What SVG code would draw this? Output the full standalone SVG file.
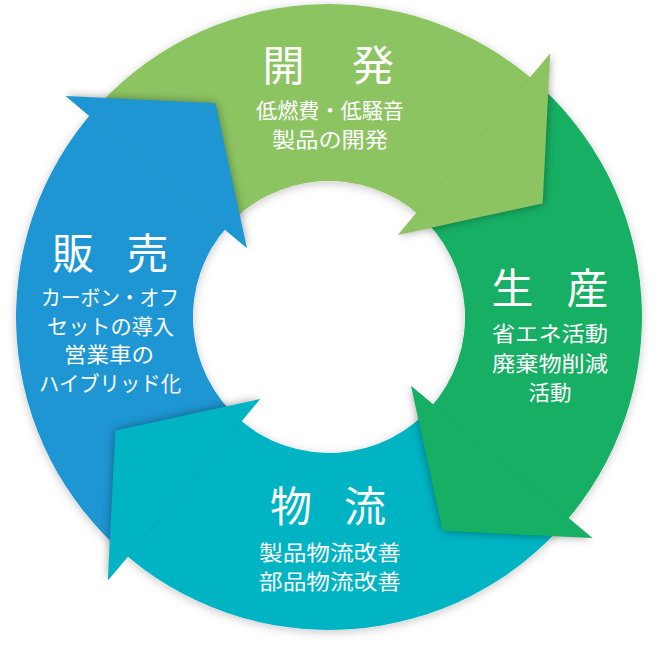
<svg xmlns="http://www.w3.org/2000/svg" width="662" height="662" viewBox="0 0 662 662">
<style>
  text { font-family: "Noto Sans CJK JP", "Noto Sans", sans-serif; fill: #ffffff; text-anchor: middle; }
  .title { font-size: 42px; }
  .sub { font-size: 21px; }
  .dev { fill: #8cc462; }
  .prod { fill: #17af64; }
  .logi { fill: #00b4c4; }
  .sales { fill: #1e96d3; }
  .hshadow { fill: #000; opacity: 0.38; filter: url(#blur); }
</style>
<defs>
  <filter id="soft" x="-20%" y="-20%" width="140%" height="140%">
    <feDropShadow dx="0" dy="2" stdDeviation="5" flood-color="#000" flood-opacity="0.22"/>
  </filter>
  <filter id="blur" x="-30%" y="-30%" width="160%" height="160%">
    <feGaussianBlur stdDeviation="5"/>
  </filter>
  <clipPath id="w1"><polygon points="329,317 714.7,-142.6 926.7,264.7 788.6,702.7"/></clipPath>
  <clipPath id="w2"><polygon points="329,317 788.6,702.7 381.3,914.7 -56.7,776.6"/></clipPath>
  <clipPath id="w3"><polygon points="329,317 -56.7,776.6 -268.7,369.3 -130.6,-68.7"/></clipPath>
  <clipPath id="w4"><polygon points="329,317 -130.6,-68.7 276.7,-280.7 714.7,-142.6"/></clipPath>
</defs>
<rect width="662" height="662" fill="#ffffff"/>
<path id="ring-shadow" fill="#ffffff" fill-rule="evenodd" filter="url(#soft)" d="M 642,317 A 313 313 0 1 0 16,317 A 313 313 0 1 0 642,317 Z M 465,317 A 136 136 0 1 1 193,317 A 136 136 0 1 1 465,317 Z"/>

<g id="node-production">
  <path class="prod" d="M 530.2,77.2 A 313 313 0 0 1 561.6,526.4 L 430.1,408.0 A 136 136 0 0 0 416.4,212.8 Z"/>
  <text class="title" x="512.5" y="304">生</text>
  <text class="title" x="587.5" y="304">産</text>
  <text class="sub" x="550" y="341" textLength="116" lengthAdjust="spacingAndGlyphs">省エネ活動</text>
  <text class="sub" x="550" y="370.5" textLength="116" lengthAdjust="spacingAndGlyphs">廃棄物削減</text>
  <text class="sub" x="550" y="399.5" textLength="43" lengthAdjust="spacingAndGlyphs">活動</text>
</g>
<g id="node-logistics">
  <path class="logi" d="M 568.8,518.2 A 313 313 0 0 1 119.6,549.6 L 238.0,418.1 A 136 136 0 0 0 433.2,404.4 Z"/>
  <text class="title" x="291" y="522">物</text>
  <text class="title" x="365" y="522">流</text>
  <text class="sub" x="330" y="560" textLength="142" lengthAdjust="spacingAndGlyphs">製品物流改善</text>
  <text class="sub" x="330" y="589" textLength="142" lengthAdjust="spacingAndGlyphs">部品物流改善</text>
</g>
<g id="node-sales">
  <path class="sales" d="M 127.8,556.8 A 313 313 0 0 1 96.4,107.6 L 227.9,226.0 A 136 136 0 0 0 241.6,421.2 Z"/>
  <text class="title" x="73" y="269">販</text>
  <text class="title" x="147.5" y="269">売</text>
  <text class="sub" x="110" y="305" textLength="138" lengthAdjust="spacingAndGlyphs">カーボン・オフ</text>
  <text class="sub" x="110.5" y="333.5" textLength="127" lengthAdjust="spacingAndGlyphs">セットの導入</text>
  <text class="sub" x="109" y="362" textLength="90" lengthAdjust="spacingAndGlyphs">営業車の</text>
  <text class="sub" x="110" y="391" textLength="142" lengthAdjust="spacingAndGlyphs">ハイブリッド化</text>
</g>
<g id="node-development">
  <path class="dev" d="M 89.2,115.8 A 313 313 0 0 1 538.4,84.4 L 420.0,215.9 A 136 136 0 0 0 224.8,229.6 Z"/>
  <text class="title" x="283.5" y="81">開</text>
  <text class="title" x="373" y="81">発</text>
  <text class="sub" x="330" y="118" textLength="148" lengthAdjust="spacingAndGlyphs">低燃費・低騒音</text>
  <text class="sub" x="330" y="146.5" textLength="116" lengthAdjust="spacingAndGlyphs">製品の開発</text>
</g>

<g id="connectors">
  <g clip-path="url(#w1)"><polygon class="hshadow" points="550.1,53.5 542.7,203.4 397.8,235.0"/></g>
  <g clip-path="url(#w2)"><polygon class="hshadow" points="592.5,538.1 442.6,530.7 411.0,385.8"/></g>
  <g clip-path="url(#w3)"><polygon class="hshadow" points="107.9,580.5 115.3,430.6 260.2,399.0"/></g>
  <g clip-path="url(#w4)"><polygon class="hshadow" points="65.5,95.9 215.4,103.3 247.0,248.2"/></g>
  <polygon id="arrow-dev-prod" class="dev" points="550.1,53.5 542.7,203.4 397.8,235.0"/>
  <polygon id="arrow-prod-logi" class="prod" points="592.5,538.1 442.6,530.7 411.0,385.8"/>
  <polygon id="arrow-logi-sales" class="logi" points="107.9,580.5 115.3,430.6 260.2,399.0"/>
  <polygon id="arrow-sales-dev" class="sales" points="65.5,95.9 215.4,103.3 247.0,248.2"/>
</g>
</svg>
